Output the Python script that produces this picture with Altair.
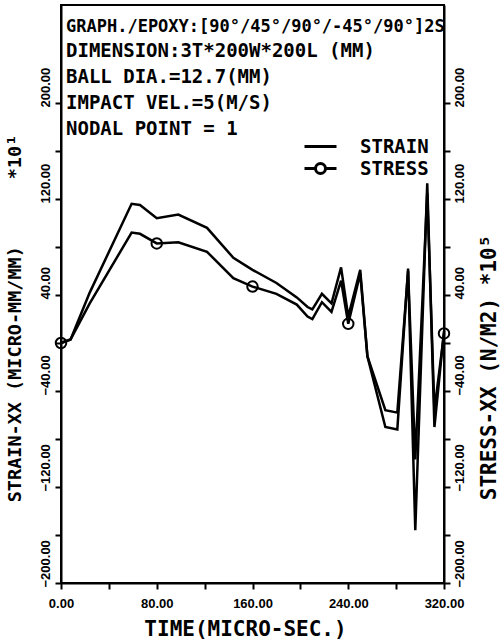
import altair as alt
import pandas as pd

# ---- data ----
time_us = [0, 8, 24, 59, 66, 80, 98, 122, 144, 160, 180, 197, 206, 210, 218, 226,
           234, 240, 250, 256, 271, 281, 290, 296, 306, 312, 320]
strain = [0, 3, 42, 116, 115, 104, 107, 96, 71, 61, 50, 38, 30, 28, 41, 33,
          63, 22, 61, -11, -70, -72, 62, -156, 133, -70, 10]
stress = [0, 3, 33, 92, 91, 83, 84, 76, 54, 47, 41, 32, 22, 20, 34, 26,
          52, 16, 58, -11, -56, -58, 60, -97, 125, -56, 8]
marker_times = [0, 80, 160, 240, 320]
series_names = ["STRAIN", "STRESS"]

header_title = "GRAPH./EPOXY:[90°/45°/90°/-45°/90°]2S"
header_lines = ["DIMENSION:3T*200W*200L (MM)", "BALL DIA.=12.7(MM)",
                "IMPACT VEL.=5(M/S)", "NODAL POINT = 1"]

x_ticks = [0, 40, 80, 120, 160, 200, 240, 280, 320]
y_ticks = [-200, -160, -120, -80, -40, 0, 40, 80, 120, 160, 200]
x_domain = [0, 320]
y_domain = [-200, 281.67]

x_title = "TIME(MICRO-SEC.)"
y_left_title = "STRAIN-XX (MICRO-MM/MM)" + "\u00a0" * 6 + "*10\u00b9"
y_right_title = "STRESS-XX (N/M2)" + "\u00a0" + "*10\u2075"

df = pd.DataFrame({"t": time_us, "strain": strain, "stress": stress})
markers = df[df["t"].isin(marker_times)]
legend_df = pd.DataFrame({"series": series_names})

MONO = "DejaVu Sans Mono"
SANS = "Liberation Sans"

W, H = 383, 578

x_enc = alt.X(
    "t:Q",
    scale=alt.Scale(domain=x_domain, nice=False, zero=False),
    axis=alt.Axis(
        values=x_ticks,
        labelExpr="datum.value % 80 == 0 ? format(datum.value, '.2f') : ''",
        title=x_title,
        titleFont=MONO, titleFontSize=21, titleFontWeight="bold",
        titleX=184, titleY=46, titleBaseline="middle", titleAlign="center",
        labelFont=SANS, labelFontSize=13, labelFontWeight="bold",
        labelPadding=8, tickSize=6, labelFlush=False, labelOverlap=False,
    ),
)

y_scale = alt.Scale(domain=y_domain, nice=False, zero=False)
y_label_expr = "(datum.value + 200) % 80 == 0 ? format(datum.value, '.2f') : ''"

left_axis = alt.Axis(
    values=y_ticks, labelExpr=y_label_expr, orient="left",
    labelAngle=270, labelAlign="left", labelBaseline="bottom", labelOffset=4,
    labelFont=SANS, labelFontSize=13, labelFontWeight="bold",
    labelPadding=3, tickSize=6, labelOverlap=False, labelFlush=False,
    title=y_left_title, titleFont=MONO, titleFontSize=18.5, titleFontWeight="bold",
    titleAngle=270, titleX=-47, titleY=313, titleAlign="center", titleBaseline="middle",
)
right_axis = alt.Axis(
    values=y_ticks, labelExpr=y_label_expr, orient="right",
    labelAngle=270, labelAlign="left", labelBaseline="top", labelOffset=4,
    labelFont=SANS, labelFontSize=13, labelFontWeight="bold",
    labelPadding=3, tickSize=6, labelOverlap=False, labelFlush=False,
    title=y_right_title, titleFont=MONO, titleFontSize=21, titleFontWeight="bold",
    titleAngle=270, titleX=45, titleY=362, titleAlign="center", titleBaseline="middle",
)

strain_line = alt.Chart(df).mark_line(color="black", strokeWidth=2.5).encode(
    x=x_enc, y=alt.Y("strain:Q", scale=y_scale, axis=left_axis)
)
stress_line = alt.Chart(df).mark_line(color="black", strokeWidth=2.5).encode(
    x=x_enc, y=alt.Y("stress:Q", scale=y_scale, axis=right_axis)
)
stress_pts = alt.Chart(markers).mark_point(
    shape="circle", size=110, filled=False, color="black", strokeWidth=2, opacity=1
).encode(x=x_enc, y=alt.Y("stress:Q", scale=y_scale, axis=None))

line_path = "M-1.6,0L1.6,0"
circ_path = ("M-1.6,0L-0.5,0M0.5,0L1.6,0"
             "M-0.5,0A0.5,0.5,0,1,0,0.5,0A0.5,0.5,0,1,0,-0.5,0")

legend_layer = alt.Chart(legend_df).transform_filter("false").mark_point(
    filled=False, color="black", strokeWidth=3, opacity=1
).encode(
    shape=alt.Shape(
        "series:N",
        scale=alt.Scale(domain=series_names, range=[line_path, circ_path]),
        legend=alt.Legend(
            title=None, orient="none", legendX=248, legendY=130,
            symbolSize=400, symbolStrokeWidth=3, symbolStrokeColor="black",
            symbolFillColor="transparent", symbolOpacity=1,
            labelFont=MONO, labelFontSize=19, labelFontWeight="bold",
            labelColor="black", labelOffset=28, rowPadding=0, padding=0,
        ),
    )
)

chart = alt.layer(strain_line, stress_line, stress_pts, legend_layer).resolve_scale(
    y="independent"
).properties(
    width=W, height=H,
    autosize=alt.AutoSizeParams(type="none"),
    padding={"left": 61, "top": 5, "right": 60, "bottom": 60},
    title=alt.TitleParams(
        text=header_title, subtitle=header_lines,
        anchor="start", frame="group", orient="top",
        font=MONO, fontSize=17, fontWeight="bold", color="black",
        subtitleFont=MONO, subtitleFontSize=19, subtitleFontWeight="bold",
        subtitleColor="black", subtitleLineHeight=26, subtitlePadding=6,
        offset=-135, dx=5,
    ),
).configure_view(
    stroke="black", strokeWidth=2
).configure_axis(
    domainColor="black", domainWidth=2, tickColor="black", tickWidth=2,
    labelColor="black", titleColor="black", grid=False,
)

chart.save("out.html", embed_options={"renderer": "svg", "actions": False})
